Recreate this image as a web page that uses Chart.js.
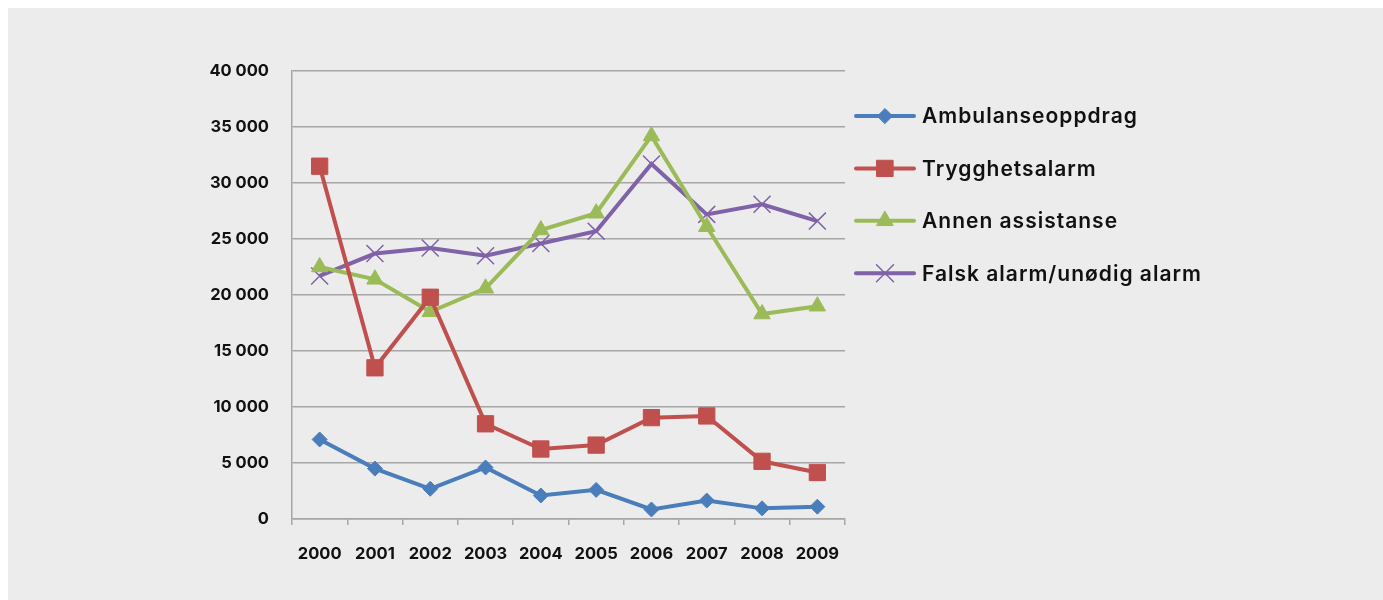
<!DOCTYPE html>
<html>
<head>
<meta charset="utf-8">
<script src="https://cdn.jsdelivr.net/npm/chart.js@4/dist/chart.umd.min.js"></script>
<style>
  html, body { margin: 0; padding: 0; background: #ffffff; overflow: hidden; }
  body { padding: 8px 0 0 8px; }
  canvas { display: block; background: #ececec; }
</style>
</head>
<body>
<canvas id="c" width="1375" height="592"></canvas>
<script>
const categories = ['2000', '2001', '2002', '2003', '2004', '2005', '2006', '2007', '2008', '2009'];
const seriesNames = ['Ambulanseoppdrag', 'Trygghetsalarm', 'Annen assistanse', 'Falsk alarm/unødig alarm'];
const ambulanse = [7100, 4500, 2700, 4600, 2100, 2600, 850, 1650, 950, 1100];
const trygghet = [31500, 13500, 19800, 8500, 6250, 6600, 9050, 9200, 5150, 4150];
const annen = [22500, 21400, 18500, 20600, 25800, 27300, 34200, 26100, 18300, 19000];
const falsk = [21700, 23700, 24200, 23500, 24600, 25700, 31700, 27200, 28100, 26600];
const yMax = 40000;
const yStep = 5000;

const colors = ['#4a7ebb', '#c0504d', '#9bbb59', '#7f62a8'];
const FONT = 'Inter, "DejaVu Sans", sans-serif';

const makeDs = (i, data, style, radius, bw) => ({
  label: seriesNames[i],
  data: data,
  borderColor: colors[i],
  backgroundColor: colors[i],
  pointBackgroundColor: colors[i],
  pointBorderColor: colors[i],
  borderWidth: 4,
  pointStyle: style,
  pointRadius: radius,
  pointHoverRadius: radius,
  pointBorderWidth: bw,
  tension: 0,
  fill: false
});

const legendPlugin = {
  id: 'sideLegend',
  afterDraw(chart) {
    const ctx = chart.ctx;
    const ca = chart.chartArea;
    const x0 = ca.right + 11;
    ctx.save();
    chart.data.datasets.forEach((ds, i) => {
      const y = ca.top + 45 + i * 52.4;
      ctx.strokeStyle = ds.borderColor;
      ctx.lineWidth = 4;
      ctx.lineCap = 'round';
      ctx.beginPath();
      ctx.moveTo(x0, y);
      ctx.lineTo(x0 + 58, y);
      ctx.stroke();
      ctx.fillStyle = ds.pointBackgroundColor;
      ctx.strokeStyle = ds.pointBorderColor;
      ctx.lineWidth = ds.pointBorderWidth;
      Chart.helpers.drawPoint(ctx, {pointStyle: ds.pointStyle, radius: ds.pointRadius, rotation: 0, borderWidth: ds.pointBorderWidth}, x0 + 29, y);
      ctx.fillStyle = '#111111';
      ctx.font = '600 21px ' + FONT;
      ctx.letterSpacing = '1px';
      ctx.textAlign = 'left';
      ctx.textBaseline = 'middle';
      ctx.fillText(ds.label, x0 + 66, y + 1);
    });
    ctx.restore();
  }
};

new Chart(document.getElementById('c'), {
  type: 'line',
  data: {
    labels: categories,
    datasets: [
      makeDs(0, ambulanse, 'rectRot', 7.5, 1),
      makeDs(1, trygghet, 'rect', 11.5, 1),
      makeDs(2, annen, 'triangle', 9.5, 1),
      makeDs(3, falsk, 'crossRot', 12, 1.5)
    ]
  },
  options: {
    responsive: false,
    animation: false,
    events: [],
    layout: { padding: { left: 0, top: 63, right: 538, bottom: 0 } },
    plugins: { legend: { display: false }, tooltip: { enabled: false } },
    scales: {
      x: {
        offset: true,
        afterFit: (axis) => { axis.height = 81; },
        grid: { offset: true, drawOnChartArea: false, drawTicks: true, tickLength: 6, color: '#a6a6a6', lineWidth: 1.5 },
        border: { color: '#a6a6a6', width: 1.5 },
        ticks: { color: '#111111', font: { family: FONT, size: 16.5, weight: '700' }, padding: 19, maxRotation: 0 }
      },
      y: {
        min: 0,
        max: yMax,
        afterFit: (axis) => { axis.width = 284; },
        grid: { drawTicks: false, color: '#a6a6a6', lineWidth: 1.5 },
        border: { color: '#a6a6a6', width: 1.5 },
        ticks: {
          stepSize: yStep,
          padding: 23,
          color: '#111111',
          font: { family: FONT, size: 16.5, weight: '700' },
          callback: (v) => String(v).replace(/\B(?=(\d{3})+(?!\d))/g, ' ')
        }
      }
    }
  },
  plugins: [legendPlugin]
});
</script>
</body>
</html>
